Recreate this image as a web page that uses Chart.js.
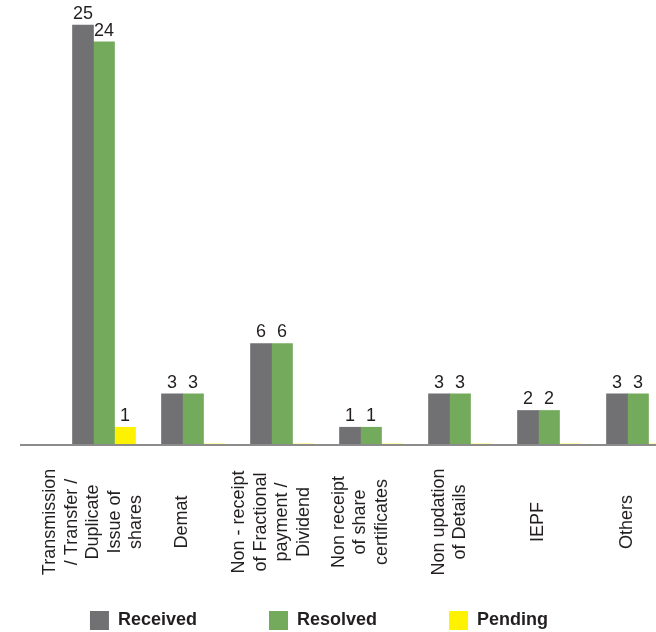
<!DOCTYPE html>
<html>
<head>
<meta charset="utf-8">
<script src="https://cdn.jsdelivr.net/npm/chart.js@4"></script>
<style>
  html, body { margin: 0; padding: 0; background: #fff; }
  #wrap { width: 656px; height: 632px; }
</style>
</head>
<body>
<div id="wrap"><canvas id="myChart" width="656" height="632"></canvas></div>
<script>
// category labels, one array of lines per category
var categories = [
  ['Transmission', '/ Transfer /', 'Duplicate', 'Issue of', 'shares'],
  ['Demat'],
  ['Non - receipt', 'of Fractional', 'payment /', 'Dividend'],
  ['Non receipt', 'of share', 'certificates'],
  ['Non updation', 'of Details'],
  ['IEPF'],
  ['Others']
];
var received = [25, 3, 6, 1, 3, 2, 3];
var resolved = [24, 3, 6, 1, 3, 2, 3];
var pending  = [1, 0, 0, 0, 0, 0, 0];

var textColor = '#231f20';
var fontFamily = '"Liberation Sans", Arial, Helvetica, sans-serif';

// values above the bars (zeros are left out)
var valueLabels = {
  id: 'valueLabels',
  afterDatasetsDraw: function(chart) {
    var ctx = chart.ctx;
    ctx.save();
    ctx.font = '18px ' + fontFamily;
    ctx.fillStyle = textColor;
    ctx.textAlign = 'center';
    ctx.textBaseline = 'alphabetic';
    chart.data.datasets.forEach(function(ds, i) {
      chart.getDatasetMeta(i).data.forEach(function(bar, j) {
        if (!ds.data[j]) return;
        ctx.fillText(String(ds.data[j]), bar.x, bar.y - 6);
      });
    });
    ctx.restore();
  }
};

// baseline across the full width + rotated category labels
var axisAndLabels = {
  id: 'axisAndLabels',
  afterDraw: function(chart) {
    var ctx = chart.ctx;
    var y0 = chart.scales.y.getPixelForValue(0);
    ctx.save();
    ctx.strokeStyle = '#8c8c8c';
    ctx.lineWidth = 2;
    ctx.beginPath();
    ctx.moveTo(20, y0 + 1);
    ctx.lineTo(chart.width, y0 + 1);
    ctx.stroke();

    ctx.font = '18px ' + fontFamily;
    ctx.fillStyle = textColor;
    ctx.textAlign = 'center';
    ctx.textBaseline = 'middle';
    var meta = chart.getDatasetMeta(0);
    categories.forEach(function(lines, i) {
      var bar = meta.data[i];
      var x = bar.x + bar.width / 2;
      ctx.save();
      ctx.translate(x, 522);
      ctx.rotate(-Math.PI / 2);
      lines.forEach(function(line, k) {
        ctx.fillText(line, 0, (k - (lines.length - 1) / 2) * 21.5);
      });
      ctx.restore();
    });
    ctx.restore();
  }
};

var ctx = document.getElementById('myChart').getContext('2d');
new Chart(ctx, {
  type: 'bar',
  data: {
    labels: categories.map(function(c) { return c.join(' '); }),
    datasets: [
      { label: 'Received', data: received, backgroundColor: '#717073', borderWidth: 0, clip: false },
      { label: 'Resolved', data: resolved, backgroundColor: '#73aa5b', borderWidth: 0, clip: false },
      { label: 'Pending',  data: pending,  backgroundColor: '#fff200', borderWidth: 0, clip: false }
    ]
  },
  options: {
    responsive: false,
    animation: false,
    barThickness: 21,
    layout: { padding: { top: 0, left: 0, right: 18, bottom: -8 } },
    plugins: {
      tooltip: { enabled: false },
      legend: {
        position: 'bottom',
        labels: {
          boxWidth: 19,
          boxHeight: 19,
          padding: 72,
          color: textColor,
          font: { family: fontFamily, size: 18, weight: 'bold' }
        }
      }
    },
    scales: {
      x: {
        offset: false,
        grid: { display: false },
        border: { display: false },
        ticks: { display: false },
        afterFit: function(scale) { scale.height = 95; }
      },
      y: {
        min: 0,
        max: 26.5,
        grid: { display: false },
        border: { display: false },
        ticks: { display: false },
        afterFit: function(scale) { scale.width = 104; }
      }
    }
  },
  plugins: [valueLabels, axisAndLabels]
});
</script>
</body>
</html>
